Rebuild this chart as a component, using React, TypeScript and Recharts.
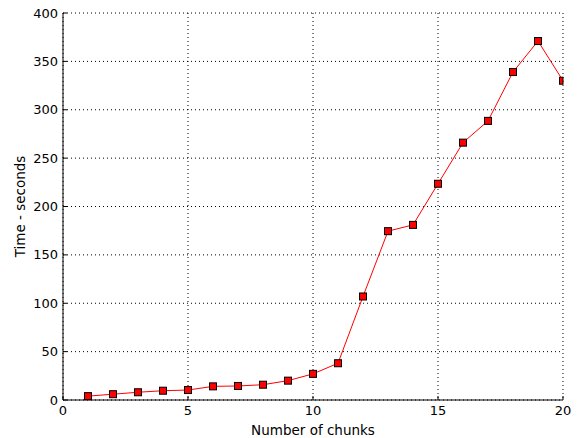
import React from 'react';
import { LineChart, Line, XAxis, YAxis, CartesianGrid } from 'recharts';

const chunks = [1, 2, 3, 4, 5, 6, 7, 8, 9, 10, 11, 12, 13, 14, 15, 16, 17, 18, 19, 20];
const seconds = [4, 6, 8, 9.6, 10.3, 14.1, 14.5, 15.8, 20, 27, 38, 107, 174.5, 181, 223.5, 266, 288.5, 339, 371, 330];
const xTicks = [0, 5, 10, 15, 20];
const yTicks = [0, 50, 100, 150, 200, 250, 300, 350, 400];

const data = chunks.map((c, i) => ({ chunks: c, seconds: seconds[i] }));

const X_MAX = xTicks[xTicks.length - 1];
const FONT = '"DejaVu Sans", sans-serif';
const TICK_LEN = 4;
const MARKER = 7;

// ticks point inward, like matplotlib's classic style
const LeftTick = (props: any) => {
  const { x, y, payload } = props;
  const edge = x + 5;
  return (
    <g>
      <line x1={edge} x2={edge + TICK_LEN} y1={y} y2={y} stroke="#000" />
      <text x={x} y={y} textAnchor="end" dominantBaseline="central" fontSize={13} fontFamily={FONT} fill="#000">
        {payload.value}
      </text>
    </g>
  );
};

const BottomTick = (props: any) => {
  const { x, y, payload } = props;
  const edge = y - 5;
  return (
    <g>
      <line x1={x} x2={x} y1={edge} y2={edge - TICK_LEN} stroke="#000" />
      <text x={x} y={y + 10} textAnchor="middle" fontSize={13} fontFamily={FONT} fill="#000">
        {payload.value}
      </text>
    </g>
  );
};

const RightTick = (props: any) => {
  const { x, y } = props;
  return <line x1={x} x2={x - TICK_LEN} y1={y} y2={y} stroke="#000" />;
};

const TopTick = (props: any) => {
  const { x, y } = props;
  return <line x1={x} x2={x} y1={y} y2={y + TICK_LEN} stroke="#000" />;
};

// square marker; the one sitting on the right edge is cut in half
const SquareDot = (props: any) => {
  const { cx, cy, payload } = props;
  if (cx == null || cy == null) return null;
  const onEdge = payload && payload.chunks >= X_MAX;
  const w = onEdge ? MARKER / 2 : MARKER;
  return <rect x={cx - MARKER / 2} y={cy - MARKER / 2} width={w} height={MARKER} fill="#ff0000" stroke="#000" strokeWidth={1} />;
};

const XLabel = (props: any) => {
  const vb = props.viewBox;
  return (
    <text x={vb.x + vb.width / 2} y={vb.y + vb.height + 10} textAnchor="middle" fontSize={13.5} fontFamily={FONT} fill="#000">
      Number of chunks
    </text>
  );
};

const YLabel = (props: any) => {
  const vb = props.viewBox;
  const cx = vb.x + 7;
  const cy = vb.y + vb.height / 2;
  return (
    <text x={cx} y={cy} transform={`rotate(-90, ${cx}, ${cy})`} textAnchor="middle" dominantBaseline="central" fontSize={13.5} fontFamily={FONT} fill="#000">
      Time - seconds
    </text>
  );
};

export default function App() {
  return (
    <div style={{ position: 'absolute', left: 0, top: 0, background: '#fff' }}>
      <LineChart width={579} height={438} data={data} margin={{ top: 13, right: 16, bottom: 13, left: 13 }}>
        <CartesianGrid stroke="#000" strokeDasharray="1 3" />
        <XAxis
          dataKey="chunks"
          type="number"
          domain={[0, X_MAX]}
          ticks={xTicks}
          height={25}
          tickSize={0}
          tickMargin={5}
          tickLine={false}
          axisLine={{ stroke: '#000' }}
          tick={<BottomTick />}
          label={{ content: <XLabel /> }}
        />
        <XAxis
          xAxisId="top"
          orientation="top"
          dataKey="chunks"
          type="number"
          domain={[0, X_MAX]}
          ticks={xTicks}
          height={0}
          tickSize={0}
          tickMargin={0}
          tickLine={false}
          axisLine={{ stroke: '#000' }}
          tick={<TopTick />}
        />
        <YAxis
          type="number"
          domain={[0, 400]}
          ticks={yTicks}
          width={50}
          tickSize={0}
          tickMargin={5}
          tickLine={false}
          axisLine={{ stroke: '#000' }}
          tick={<LeftTick />}
          label={{ content: <YLabel /> }}
        />
        <YAxis
          yAxisId="right"
          orientation="right"
          type="number"
          domain={[0, 400]}
          ticks={yTicks}
          width={0}
          tickSize={0}
          tickMargin={0}
          tickLine={false}
          axisLine={{ stroke: '#000' }}
          tick={<RightTick />}
        />
        <Line
          type="linear"
          dataKey="seconds"
          stroke="#ff0000"
          strokeWidth={1}
          dot={<SquareDot />}
          activeDot={false}
          isAnimationActive={false}
        />
      </LineChart>
    </div>
  );
}
